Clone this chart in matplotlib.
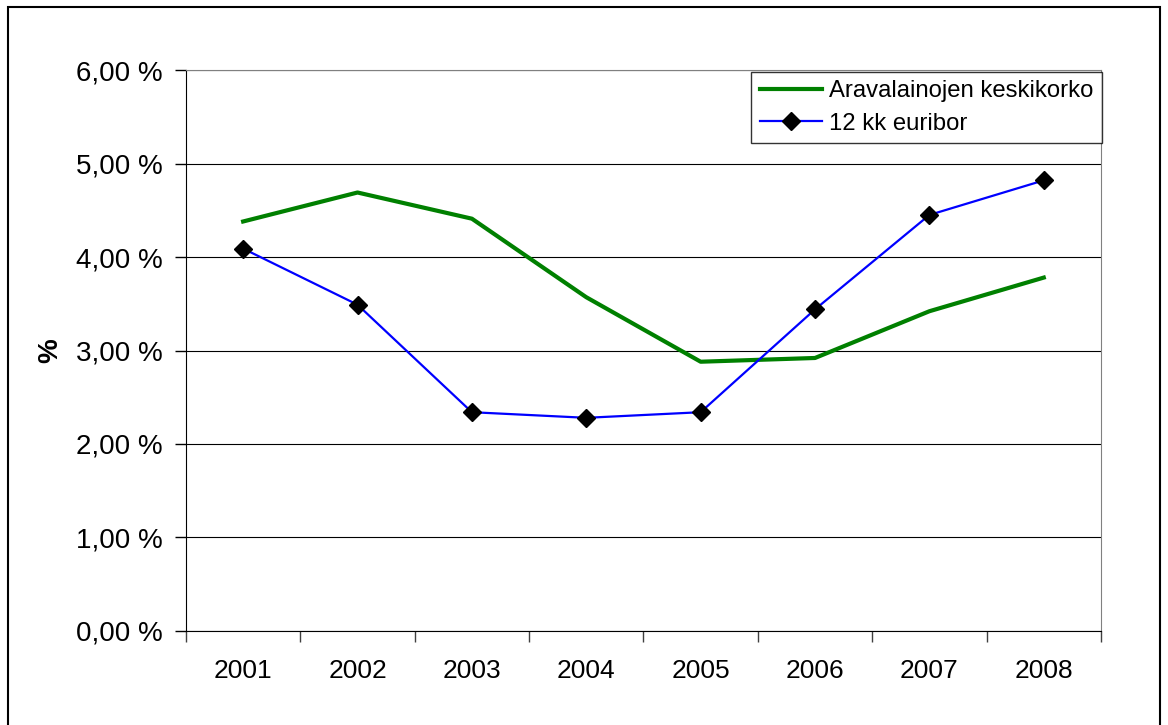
import matplotlib.pyplot as plt
import matplotlib.patches as mpatches
import matplotlib.ticker as mtick
import numpy as np

plt.rcParams["font.family"] = ["Liberation Sans", "DejaVu Sans"]

years = ["2001", "2002", "2003", "2004", "2005", "2006", "2007", "2008"]
keskikorko = [4.38, 4.69, 4.41, 3.57, 2.88, 2.92, 3.42, 3.78]
euribor = [4.09, 3.49, 2.34, 2.28, 2.34, 3.44, 4.45, 4.82]
y_ticks = [0, 1, 2, 3, 4, 5, 6]

green = "#008000"
blue = "#0000FF"

fig = plt.figure(figsize=(11.68, 7.25), dpi=100)
ax = fig.add_axes([0.1592, 0.1297, 0.7834, 0.7737])

# chart frame around everything
fig.patches.append(
    mpatches.Rectangle((0.0068, -0.02), 0.9863, 1.0103, transform=fig.transFigure,
                       fill=False, edgecolor="black", linewidth=1.5)
)

x = np.arange(len(years)) + 0.5
ax.plot(x, keskikorko, color=green, linewidth=3, label="Aravalainojen keskikorko")
ax.plot(x, euribor, color=blue, linewidth=1.6, marker="D", markersize=9,
        markerfacecolor="black", markeredgecolor="black", label="12 kk euribor")

ax.set_xlim(0, len(years))
ax.set_ylim(0, 6)

# category boundaries get ticks, labels sit in the middle
ax.set_xticks(np.arange(len(years) + 1))
ax.set_xticklabels([])
ax.set_xticks(x, minor=True)
ax.set_xticklabels(years, minor=True, fontsize=19)
ax.tick_params(axis="x", which="major", direction="out", length=8, width=1, color="#404040")
ax.tick_params(axis="x", which="minor", length=0, pad=20)

ax.set_yticks(y_ticks)
ax.yaxis.set_major_formatter(mtick.FuncFormatter(lambda v, _: f"{v:.2f} %".replace(".", ",")))
ax.tick_params(axis="y", direction="out", length=8, width=1, labelsize=20, pad=9)

ax.yaxis.grid(True, color="black", linewidth=0.8)
ax.set_axisbelow(True)
for side in ["top", "right"]:
    ax.spines[side].set_color("#808080")
for side in ["left", "bottom"]:
    ax.spines[side].set_color("black")

ax.set_ylabel("%", fontsize=20, fontweight="bold", labelpad=9)

leg = ax.legend(loc="upper right", bbox_to_anchor=(1.001, 0.997), fontsize=17.2,
                frameon=True, fancybox=False, edgecolor="black", handlelength=2.6,
                borderpad=0.35, labelspacing=0.45, handletextpad=0.3, borderaxespad=0)
leg.get_frame().set_linewidth(1.0)

fig.savefig("out.png", dpi=100)
